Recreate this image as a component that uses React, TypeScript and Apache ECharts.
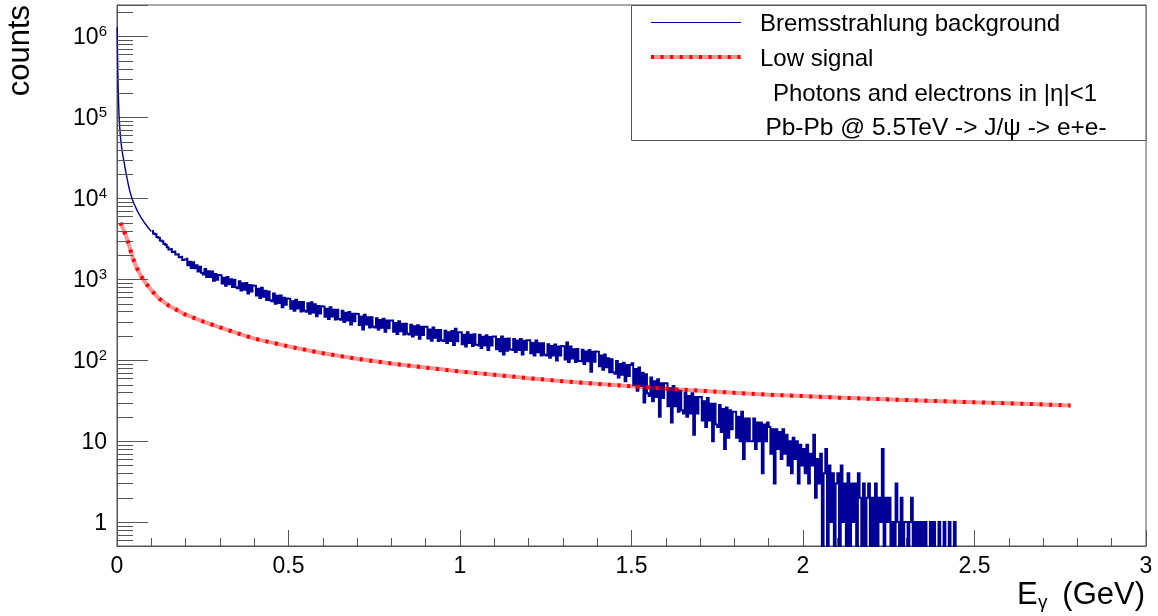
import React, { useEffect, useRef } from 'react';
import * as echarts from 'echarts';

// ---- axis ranges / ticks ----
const xRange = [0, 3];
const xMajorStep = 0.5;
const yRange = [0.506, 2.45e6];
const yMinorTicks = [
  0.6, 0.7, 0.8, 0.9,
  2, 3, 4, 5, 6, 7, 8, 9,
  20, 30, 40, 50, 60, 70, 80, 90,
  200, 300, 400, 500, 600, 700, 800, 900,
  2000, 3000, 4000, 5000, 6000, 7000, 8000, 9000,
  20000, 30000, 40000, 50000, 60000, 70000, 80000, 90000,
  200000, 300000, 400000, 500000, 600000, 700000, 800000, 900000,
  2000000,
];

// ---- Bremsstrahlung background (histogram) ----
const bgHeadE = [0.0005, 0.0015, 0.0025, 0.0035, 0.0045, 0.006, 0.008, 0.01, 0.0125, 0.015, 0.0175, 0.02, 0.025, 0.03, 0.035, 0.04, 0.045, 0.05, 0.06, 0.07, 0.08, 0.09, 0.1];
const bgHeadCounts = [1300000, 600000, 350000, 230000, 160000, 105000, 75000, 58000, 46000, 38000, 33000, 29000, 22000, 17000, 13500, 11200, 9600, 8500, 6900, 5800, 5000, 4400, 3900];

const bgBinStart = 0.1025;
const bgBinWidth = 0.005;
const bgBodyCounts = [
  3950, 3670, 3590, 3330, 3250, 3020, 2950, 2740, 2680, 2490,
  2340, 2370, 2170, 2200, 2020, 2045, 1870, 1895, 1735, 1755,
  1789, 1489, 1645, 1381, 1618, 1367, 1489, 1252, 1424, 1208,
  1147, 1341, 1070, 1257, 1066, 1244, 962, 1165, 990, 1129,
  1119, 885, 1044, 834, 1070, 865, 999, 801, 985, 799,
  775, 945, 727, 893, 740, 899, 667, 850, 706, 835,
  832, 630, 765, 585, 783, 609, 720, 554, 705, 551,
  534, 666, 498, 625, 508, 630, 452, 591, 483, 580,
  574, 433, 536, 408, 559, 434, 523, 401, 522, 407,
  398, 506, 374, 520, 388, 491, 349, 466, 379, 463,
  462, 344, 431, 323, 450, 346, 420, 318, 419, 323,
  316, 407, 297, 385, 309, 395, 276, 375, 302, 374,
  372, 273, 347, 240, 365, 277, 340, 254, 340, 259,
  253, 330, 239, 314, 251, 325, 224, 310, 248, 310,
  310, 224, 288, 211, 304, 228, 283, 208, 283, 213,
  208, 275, 196, 262, 207, 271, 184, 259, 205, 259,
  259, 185, 240, 174, 254, 189, 237, 173, 237, 177,
  173, 231, 163, 221, 173, 229, 154, 245, 172, 221,
  221, 157, 207, 148, 221, 163, 207, 150, 209, 155,
  152, 206, 142, 195, 152, 204, 134, 194, 152, 196,
  196, 137, 183, 129, 196, 118, 184, 131, 186, 136,
  134, 183, 126, 175, 134, 183, 118, 174, 135, 176,
  177, 122, 163, 114, 175, 125, 162, 114, 162, 117,
  114, 158, 107, 150, 114, 156, 99, 148, 114, 150,
  149, 102, 165, 95, 148, 105, 137, 95, 138, 98,
  97, 135, 90, 128, 97, 134, 72, 127, 96, 128,
  127, 84, 114, 76, 118, 82, 106, 71, 103, 71,
  68, 98, 61, 90, 66, 93, 55, 87, 64, 87,
];
const bgTailCounts = [
  92, 49, 78, 42, 81, 48, 70, 30, 67, 39,
  36, 61, 31, 55, 35, 58, 20, 52, 34, 52,
  52, 27, 45, 17, 48, 27, 43, 23, 42, 24,
  22, 40, 20, 36, 22, 39, 12, 35, 22, 35,
  35, 18, 31, 15, 34, 18, 29, 10, 29, 16,
  15, 28, 13, 25, 8, 26, 11, 24, 14, 23,
  23, 11, 20, 10, 23, 6, 19, 10, 19, 10,
  10, 19, 8, 17, 10, 17, 4, 16, 10, 17,
  15, 7, 14, 3, 14, 8, 13, 6, 14, 7,
  12, 5, 10, 4, 11, 6, 10, 3, 9, 5,
  8, 4, 9, 3, 7, 5, 12, 2, 6, 3,
  7, 0, 4, 8, 0, 5, 1, 4, 0, 3,
  4, 0, 5, 1, 3, 0, 4, 0, 3, 1,
  3, 0, 4, 2, 0, 3, 0, 2, 3, 0,
  2, 0, 3, 0, 2, 1, 8, 0, 2, 1,
  2, 0, 1, 0, 3, 1, 0, 2, 0, 1,
  1, 0, 1, 2, 0, 1, 0, 1, 0, 1,
  0, 1, 0, 0, 1, 0, 1, 0, 0, 1,
  0, 0, 1, 0, 0, 1, 0, 0, 1, 0,
];
// empty bins are drawn down to the bottom of the frame (log scale)
const EMPTY_BIN_DRAW = 0.3;

// ---- Low signal ----
const sigE = [0.01, 0.02, 0.03, 0.04, 0.05, 0.06, 0.07, 0.08, 0.1, 0.12, 0.15, 0.2, 0.25, 0.3, 0.35, 0.4, 0.5, 0.6, 0.7, 0.8, 0.9, 1.0, 1.1, 1.2, 1.3, 1.4, 1.5, 1.6, 1.7, 1.8, 1.9, 2.0, 2.1, 2.2, 2.3, 2.4, 2.5, 2.6, 2.7, 2.78];
const sigCounts = [5000, 4000, 3100, 2250, 1650, 1320, 1100, 940, 735, 590, 475, 365, 302, 255, 216, 185, 148, 122, 104, 91, 81, 72.5, 66, 60, 55, 51, 47.5, 44.5, 42, 39.5, 37.5, 36, 34.5, 33.3, 32.2, 31.2, 30.2, 29.3, 28.4, 27.6];

// ---- texts ----
const legendEntries = ['Bremsstrahlung background', 'Low signal'];
const legendNotes = ['Photons and electrons in |\u03b7|<1', 'Pb-Pb @ 5.5TeV -> J/\u03c8 -> e+e-'];
const yTitle = 'counts';
const xTitleMain = 'E';
const xTitleSub = '\u03b3';
const xTitleUnit = '(GeV)';

const FONT = '"Liberation Sans", Arial, Helvetica, sans-serif';
const AXIS = '#555555';
const BLUE = '#000099';
const RED = '#ff0000';
const RED_LIGHT = 'rgba(255,0,0,0.42)';

function yLabel(v: number): string {
  const k = Math.log10(v);
  const r = Math.round(k);
  if (Math.abs(k - r) > 1e-6) return '';
  if (r === 0) return '{b|1}';
  if (r === 1) return '{b|10}';
  return `{b|10}{s|${r}}`;
}

export default function App() {
  const ref = useRef<HTMLDivElement>(null);
  useEffect(() => {
    document.body.style.margin = '0';
    if (!ref.current) return;
    const chart = echarts.init(ref.current, undefined, { renderer: 'svg' });

    const headData = bgHeadE.map((e, i) => [e, bgHeadCounts[i]]);
    const binCounts = bgBodyCounts.concat(bgTailCounts);
    const binData = binCounts.map((c, i) => [bgBinStart + i * bgBinWidth, c > 0 ? c : EMPTY_BIN_DRAW]);
    const sigData = sigE.map((e, i) => [e, sigCounts[i]]);

    const tickStyle = { color: AXIS, width: 1 };

    const option: any = {
      animation: false,
      grid: {
        left: 117, right: 12, top: 5, bottom: 70,
        show: true, borderColor: AXIS, borderWidth: 1, backgroundColor: 'transparent',
      },
      xAxis: {
        type: 'value', min: xRange[0], max: xRange[1], interval: xMajorStep,
        axisLine: { show: true, onZero: false, lineStyle: tickStyle },
        axisTick: { show: true, inside: true, length: 16, lineStyle: tickStyle },
        minorTick: { show: true, splitNumber: 5, length: 8, lineStyle: tickStyle },
        splitLine: { show: false },
        minorSplitLine: { show: false },
        axisLabel: { margin: 7, fontFamily: FONT, fontSize: 23, color: '#000' },
      },
      yAxis: {
        type: 'log', logBase: 10, min: yRange[0], max: yRange[1],
        axisLine: { show: true, onZero: false, lineStyle: tickStyle },
        axisTick: { show: true, inside: true, length: 31, lineStyle: tickStyle },
        splitLine: { show: false },
        axisLabel: {
          margin: 10,
          formatter: (v: number) => yLabel(v),
          rich: {
            b: { fontFamily: FONT, fontSize: 23, color: '#000', lineHeight: 26 },
            s: { fontFamily: FONT, fontSize: 15, color: '#000', lineHeight: 19, verticalAlign: 'top' },
          },
        },
      },
      series: [
        {
          type: 'custom', silent: true, clip: false, z: 5,
          data: yMinorTicks.map((v) => [0, v]),
          encode: { x: 0, y: 1 },
          renderItem: (_p: any, api: any) => {
            const pt = api.coord([xRange[0], api.value(1)]);
            const y = Math.round(pt[1]) + 0.5;
            return {
              type: 'line',
              shape: { x1: pt[0], y1: y, x2: pt[0] + 16, y2: y },
              style: { stroke: AXIS, lineWidth: 1 },
            };
          },
        },
        {
          name: legendEntries[0], type: 'line', silent: true, showSymbol: false, symbol: 'none',
          data: headData, lineStyle: { color: BLUE, width: 1.4 }, z: 3,
        },
        {
          name: legendEntries[0], type: 'line', silent: true, showSymbol: false, symbol: 'none',
          step: 'middle', data: binData, lineStyle: { color: BLUE, width: 2, join: 'miter' }, z: 3,
        },
        {
          name: legendEntries[1], type: 'line', silent: true, showSymbol: false, symbol: 'none',
          data: sigData, lineStyle: { color: RED_LIGHT, width: 4 }, z: 4,
        },
        {
          name: legendEntries[1], type: 'line', silent: true, showSymbol: false, symbol: 'none',
          data: sigData, lineStyle: { color: RED, width: 4, type: [3, 6.6] }, z: 4,
        },
      ],
      graphic: [
        {
          type: 'rect', z: 10, silent: true,
          shape: { x: 631.5, y: 5.5, width: 1146 - 631.5, height: 135 },
          style: { fill: '#ffffff', stroke: AXIS, lineWidth: 1 },
        },
        {
          type: 'line', z: 11, silent: true,
          shape: { x1: 651, y1: 22.5, x2: 741, y2: 22.5 },
          style: { stroke: BLUE, lineWidth: 1 },
        },
        {
          type: 'line', z: 11, silent: true,
          shape: { x1: 651, y1: 57, x2: 741, y2: 57 },
          style: { stroke: RED_LIGHT, lineWidth: 4 },
        },
        {
          type: 'line', z: 12, silent: true,
          shape: { x1: 651, y1: 57, x2: 741, y2: 57 },
          style: { stroke: RED, lineWidth: 4, lineDash: [3, 6.6] },
        },
        {
          type: 'text', z: 12, silent: true, x: 760, y: 22,
          style: { text: legendEntries[0], fontFamily: FONT, fontSize: 24, fill: '#000', align: 'left', verticalAlign: 'middle' },
        },
        {
          type: 'text', z: 12, silent: true, x: 760, y: 57,
          style: { text: legendEntries[1], fontFamily: FONT, fontSize: 24, fill: '#000', align: 'left', verticalAlign: 'middle' },
        },
        {
          type: 'text', z: 12, silent: true, x: 935, y: 92,
          style: { text: legendNotes[0], fontFamily: FONT, fontSize: 24, fill: '#000', align: 'center', verticalAlign: 'middle' },
        },
        {
          type: 'text', z: 12, silent: true, x: 936, y: 126,
          style: { text: legendNotes[1], fontFamily: FONT, fontSize: 24.5, fill: '#000', align: 'center', verticalAlign: 'middle' },
        },
        {
          type: 'text', z: 12, silent: true, x: 18, y: 5, rotation: Math.PI / 2,
          style: { text: yTitle, fontFamily: FONT, fontSize: 31, fill: '#000', align: 'right', verticalAlign: 'middle' },
        },
        {
          type: 'text', z: 12, silent: true, x: 1017, y: 593,
          style: { text: xTitleMain, fontFamily: FONT, fontSize: 31, fill: '#000', align: 'left', verticalAlign: 'middle' },
        },
        {
          type: 'text', z: 12, silent: true, x: 1038, y: 601,
          style: { text: xTitleSub, fontFamily: FONT, fontSize: 19, fill: '#000', align: 'left', verticalAlign: 'middle' },
        },
        {
          type: 'text', z: 12, silent: true, x: 1145, y: 593,
          style: { text: xTitleUnit, fontFamily: FONT, fontSize: 31, fill: '#000', align: 'right', verticalAlign: 'middle' },
        },
      ],
    };

    chart.setOption(option);
    return () => chart.dispose();
  }, []);

  return <div ref={ref} style={{ position: 'fixed', left: 0, top: 0, width: 1158, height: 616 }} />;
}
